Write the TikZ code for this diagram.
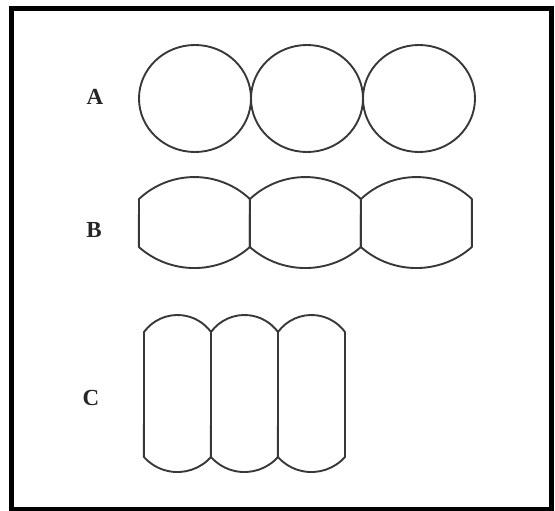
\documentclass[tikz,border=0pt]{standalone}
\usepackage{fontspec}
\setmainfont{Liberation Serif}
\begin{document}
\begin{tikzpicture}[x=1pt,y=-1pt,
  cell/.style={draw=black!78, line width=1.9pt, line join=round},
  lab/.style={font=\fontsize{23}{23}\selectfont\bfseries, text=black!85, inner sep=0pt}]
\useasboundingbox (0,0) rectangle (555,511);
\draw[line width=5pt] (11,8.5) rectangle (551,509);

% row A: round cells touching
\node[lab] (labA) at (95,97) {A};
\foreach \cx in {195,307,419}
  \draw[cell] (\cx,98.5) ellipse [x radius=56, y radius=53.5];

% row B: cells flattened against each other
\node[lab] (labB) at (94,230) {B};
\foreach \xa in {139,250,361}
  \draw[cell] (\xa,199) arc[start angle=-133.2, end angle=-46.8, radius=81]
    -- ++(0,48) arc[start angle=48.5, end angle=131.5, radius=83.8] -- cycle;

% row C: long narrow cells
\node[lab] (labC) at (91,398) {C};
\foreach \xa in {144,211,278}
  \draw[cell] (\xa,332) arc[start angle=-143.8, end angle=-36.2, radius=41.5]
    -- ++(0,125) arc[start angle=41.7, end angle=138.3, radius=44.9] -- cycle;
\end{tikzpicture}
\end{document}
